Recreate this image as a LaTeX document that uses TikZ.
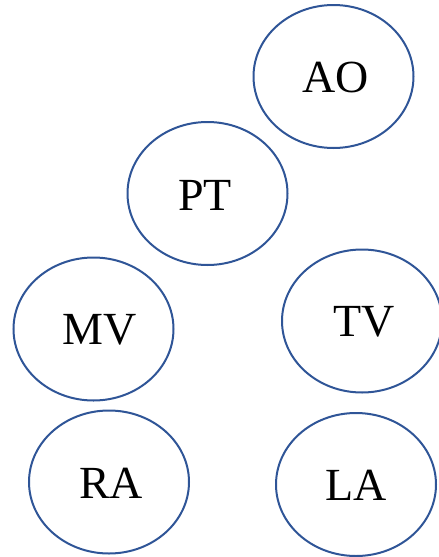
\documentclass[tikz,border=0pt]{standalone}
\usepackage{fontspec}
\setmainfont{Liberation Serif}
\usetikzlibrary{shapes.geometric}
\definecolor{ovalblue}{HTML}{2F5597}
\begin{document}
\begin{tikzpicture}[x=1pt,y=-1pt,
  oval/.style={ellipse, draw=ovalblue, line width=2pt, minimum width=160pt, minimum height=143pt, inner sep=0pt},
  lbl/.style={font=\fontsize{46}{50}\selectfont, inner sep=0pt}]
\useasboundingbox (0,0) rectangle (439,557);
\node[oval] (AO) at (333.5,76.5) {};
\node[oval] (PT) at (207.5,193.5) {};
\node[oval] (MV) at (93.5,329) {};
\node[oval] (TV) at (362,321) {};
\node[oval] (RA) at (109,482) {};
\node[oval] (LA) at (356,484.5) {};
\node[lbl] at (336,77.5) {AO};
\node[lbl] at (205,195) {PT};
\node[lbl] at (100,330) {MV};
\node[lbl] at (364,322) {TV};
\node[lbl] at (111,483) {RA};
\node[lbl] at (356.5,485) {LA};
\end{tikzpicture}
\end{document}
